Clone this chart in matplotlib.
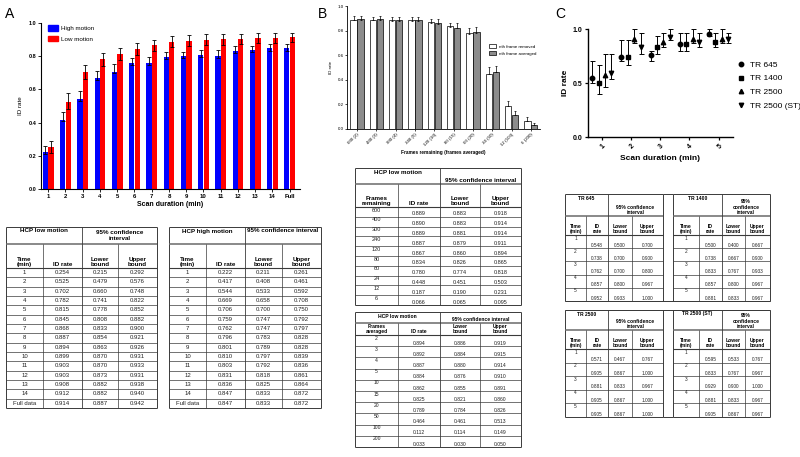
import numpy as np
import matplotlib
matplotlib.use('Agg')
import matplotlib.pyplot as plt
from matplotlib.lines import Line2D
from matplotlib.patches import Patch

plt.rcParams['font.family'] = ['Liberation Sans', 'DejaVu Sans']

# ---- Panel A: scan duration, low vs high motion ----
scan_labels = [str(i) for i in range(1, 15)] + ['Full']
table_time = [str(i) for i in range(1, 15)] + ['Full data']
low_rate = [0.254, 0.525, 0.702, 0.782, 0.815, 0.845, 0.868, 0.887, 0.894, 0.899, 0.903, 0.903, 0.908, 0.912, 0.914]
low_lower = [0.215, 0.479, 0.660, 0.741, 0.778, 0.808, 0.833, 0.854, 0.863, 0.870, 0.870, 0.873, 0.882, 0.882, 0.887]
low_upper = [0.292, 0.576, 0.748, 0.822, 0.852, 0.882, 0.900, 0.921, 0.926, 0.931, 0.933, 0.931, 0.938, 0.940, 0.942]
high_rate = [0.222, 0.417, 0.544, 0.669, 0.706, 0.759, 0.762, 0.796, 0.801, 0.810, 0.803, 0.831, 0.836, 0.847, 0.847]
high_lower = [0.211, 0.408, 0.533, 0.658, 0.700, 0.747, 0.747, 0.783, 0.789, 0.797, 0.792, 0.818, 0.825, 0.833, 0.833]
high_upper = [0.261, 0.461, 0.592, 0.708, 0.750, 0.792, 0.797, 0.828, 0.828, 0.839, 0.836, 0.861, 0.864, 0.872, 0.872]

# ---- Panel B: frames removed vs averaged ----
frames_remaining = ['600', '400', '300', '240', '120', '80', '60', '24', '12', '6']
frames_averaged = ['2', '3', '4', '5', '10', '15', '20', '50', '100', '200']
removed_rate = [0.889, 0.890, 0.889, 0.887, 0.867, 0.834, 0.780, 0.448, 0.187, 0.066]
removed_lower = [0.883, 0.883, 0.881, 0.879, 0.860, 0.826, 0.774, 0.451, 0.190, 0.065]
removed_upper = [0.918, 0.914, 0.914, 0.911, 0.894, 0.865, 0.818, 0.503, 0.231, 0.095]
averaged_rate = [0.894, 0.892, 0.887, 0.884, 0.862, 0.825, 0.789, 0.464, 0.112, 0.033]
averaged_lower = [0.886, 0.884, 0.880, 0.876, 0.855, 0.821, 0.784, 0.461, 0.114, 0.030]
averaged_upper = [0.919, 0.915, 0.914, 0.910, 0.891, 0.860, 0.826, 0.513, 0.149, 0.050]

# ---- Panel C: repetition time ----
durations = [1, 2, 3, 4, 5]
tr_names = ['TR 645', 'TR 1400', 'TR 2500', 'TR 2500 (ST)']
tr645_rate = [0.548, 0.738, 0.762, 0.857, 0.952]
tr645_lower = [0.500, 0.700, 0.700, 0.800, 0.933]
tr645_upper = [0.700, 0.900, 0.800, 0.967, 1.000]
tr1400_rate = [0.500, 0.738, 0.833, 0.857, 0.881]
tr1400_lower = [0.400, 0.667, 0.767, 0.800, 0.833]
tr1400_upper = [0.667, 0.900, 0.933, 0.967, 0.967]
tr2500_rate = [0.571, 0.905, 0.881, 0.905, 0.905]
tr2500_lower = [0.467, 0.867, 0.833, 0.867, 0.867]
tr2500_upper = [0.767, 1.000, 0.967, 1.000, 1.000]
tr2500st_rate = [0.595, 0.833, 0.929, 0.881, 0.905]
tr2500st_lower = [0.533, 0.767, 0.900, 0.833, 0.867]
tr2500st_upper = [0.767, 0.967, 1.000, 0.967, 0.967]

W, H = 800, 457
fig = plt.figure(figsize=(8, 4.57), dpi=100)
bg = fig.add_axes([0, 0, 1, 1])
bg.set_xlim(0, W)
bg.set_ylim(H, 0)
bg.axis('off')


def px_axes(x0, y0, x1, y1):
    return fig.add_axes([x0 / W, 1 - y1 / H, (x1 - x0) / W, (y1 - y0) / H])


def err(rate, lower, upper):
    r = np.array(rate)
    return [np.clip(r - np.array(lower), 0, None), np.clip(np.array(upper) - r, 0, None)]


def style_axes(ax, lw):
    for s in ['top', 'right']:
        ax.spines[s].set_visible(False)
    for s in ['left', 'bottom']:
        ax.spines[s].set_linewidth(lw)


# Panel A chart
axA = px_axes(41, 23, 300, 189)
xa = np.arange(len(scan_labels))
ekw = dict(ecolor='black', elinewidth=0.6, capsize=1.2, capthick=0.6)
axA.bar(xa - 0.16, high_rate, 0.3, color='#0000ff', yerr=err(high_rate, high_lower, high_upper), error_kw=ekw)
axA.bar(xa + 0.16, low_rate, 0.3, color='#ff0000', yerr=err(low_rate, low_lower, low_upper), error_kw=ekw)
axA.set_xlim(-0.42, 14.6)
axA.set_ylim(0, 1)
axA.set_yticks(np.arange(0, 1.01, 0.2))
axA.set_yticklabels(['%.1f' % v for v in np.arange(0, 1.01, 0.2)], fontsize=4, fontweight='bold')
axA.set_xticks(xa)
axA.set_xticklabels(scan_labels, fontsize=4.3, fontweight='bold')
axA.tick_params(width=0.6, length=2, pad=1.5)
style_axes(axA, 0.8)
axA.set_ylabel('ID rate', fontsize=4.5, labelpad=4)
axA.set_xlabel('Scan duration (min)', fontsize=5, fontweight='bold', labelpad=1.5)
axA.legend([Patch(color='#0000ff'), Patch(color='#ff0000')], ['High motion', 'Low motion'],
           loc='upper left', bbox_to_anchor=(45 / W, 1 - 22 / H), bbox_transform=fig.transFigure,
           frameon=False, fontsize=4.5, handlelength=1.5, handleheight=1.0, borderpad=0,
           labelspacing=0.75, handletextpad=0.5)

# Panel B chart
axB = px_axes(347, 6, 540, 129)
xb = np.arange(len(frames_remaining))
ekw_b = dict(ecolor='black', elinewidth=0.5, capsize=1.0, capthick=0.5)
axB.bar(xb - 0.18, removed_rate, 0.32, color='white', edgecolor='black', linewidth=0.5,
        yerr=err(removed_rate, removed_lower, removed_upper), error_kw=ekw_b)
axB.bar(xb + 0.18, averaged_rate, 0.32, color='#8c8c8c', edgecolor='black', linewidth=0.5,
        yerr=err(averaged_rate, averaged_lower, averaged_upper), error_kw=ekw_b)
axB.set_xlim(-0.52, 9.47)
axB.set_ylim(0, 1)
axB.set_yticks(np.arange(0, 1.01, 0.2))
axB.set_yticklabels(['%.1f' % v for v in np.arange(0, 1.01, 0.2)], fontsize=3.2)
axB.set_xticks(xb)
axB.set_xticklabels(['%s (%s)' % (r, a) for r, a in zip(frames_remaining, frames_averaged)],
                    fontsize=3.2, rotation=45, ha='right', rotation_mode='anchor')
axB.tick_params(width=0.5, length=1.5, pad=1)
style_axes(axB, 0.6)
axB.set_ylabel('ID rate', fontsize=3.2, labelpad=3)
axB.set_xlabel('Frames remaining (frames averaged)', fontsize=3.4, fontweight='bold', labelpad=2)
axB.legend([Patch(facecolor='white', edgecolor='black', linewidth=0.5),
            Patch(facecolor='#8c8c8c', edgecolor='black', linewidth=0.5)],
           ['nth frame removed', 'nth frame averaged'],
           loc='upper left', bbox_to_anchor=(487 / W, 1 - 42 / H), bbox_transform=fig.transFigure,
           frameon=False, fontsize=3.2, handlelength=1.6, handleheight=1.0, borderpad=0,
           labelspacing=0.6, handletextpad=0.6)

# Panel C chart
axC = px_axes(588, 29, 733, 137)
offsets = [-0.33, -0.11, 0.11, 0.33]
markers = ['o', 's', '^', 'v']
series_c = [(tr645_rate, tr645_lower, tr645_upper), (tr1400_rate, tr1400_lower, tr1400_upper),
            (tr2500_rate, tr2500_lower, tr2500_upper), (tr2500st_rate, tr2500st_lower, tr2500st_upper)]
for (rate, lo, hi), off, mk in zip(series_c, offsets, markers):
    axC.errorbar(np.array(durations) + off, rate, yerr=err(rate, lo, hi), fmt=mk, color='black',
                 ms=3.2, elinewidth=0.7, capsize=1.8, capthick=0.7)
axC.set_xlim(0.53, 5.49)
axC.set_ylim(0, 1)
axC.set_yticks([0, 0.5, 1.0])
axC.set_yticklabels(['0.0', '0.5', '1.0'], fontsize=5, fontweight='bold')
axC.set_xticks(durations)
axC.set_xticklabels([str(d) for d in durations], fontsize=5, fontweight='bold', rotation=45,
                    ha='right', rotation_mode='anchor')
axC.tick_params(width=0.9, length=2.5, pad=1.5)
style_axes(axC, 1.0)
axC.set_ylabel('ID rate', fontsize=6, fontweight='bold', labelpad=3)
axC.set_xlabel('Scan duration (min)', fontsize=6, fontweight='bold', labelpad=3)
axC.legend([Line2D([], [], ls='none', marker=m, color='black', ms=3.2) for m in markers], tr_names,
           loc='upper left', bbox_to_anchor=(733 / W, 1 - 57 / H), bbox_transform=fig.transFigure,
           frameon=False, fontsize=6, handlelength=0.8, borderpad=0, labelspacing=0.68,
           handletextpad=0.8)

# panel letters
bg.text(5, 14, 'A', fontsize=10, va='center')
bg.text(318, 14, 'B', fontsize=10, va='center')
bg.text(555, 14, 'C', fontsize=10, va='center')

LC = '#3a3a3a'


def hline(x0, x1, y, lw=0.5, c=LC):
    bg.plot([x0, x1], [y, y], color=c, lw=lw, solid_capstyle='butt')


def vline(x, y0, y1, lw=0.5, c=LC):
    bg.plot([x, x], [y0, y1], color=c, lw=lw, solid_capstyle='butt')


def ci_table(xs, top, h1, h2, rh, title, ci_title, heads, col0, rates, lowers, uppers,
             fs_head, fs_body, ci_va='center', body_mode='center'):
    x0, x1, x2, x3, x4 = xs
    y1 = top + h1
    y2 = y1 + h2
    n = len(col0)
    bottom = y2 + n * rh
    hline(x0, x4, top, 0.7)
    hline(x0, x4, bottom, 0.7)
    vline(x0, top, bottom, 0.7)
    vline(x4, top, bottom, 0.7)
    hline(x0, x4, y1, 1.1, '#6a6a6a')
    hline(x0, x4, y2, 0.8)
    for i in range(1, n):
        hline(x0, x4, y2 + i * rh, 0.5)
    vline(x2, top, bottom, 0.6)
    vline(x1, y1, bottom, 0.5)
    vline(x3, y1, bottom, 0.5)
    bg.text((x0 + x2) / 2, top + 1.5, title, fontsize=fs_head, fontweight='bold', ha='center', va='top')
    if ci_va == 'center':
        bg.text((x2 + x4) / 2, (top + y1) / 2, ci_title, fontsize=fs_head, fontweight='bold',
                ha='center', va='center', linespacing=1.1)
    elif ci_va == 'top':
        bg.text((x2 + x4) / 2, top + 1.5, ci_title, fontsize=fs_head, fontweight='bold',
                ha='center', va='top', linespacing=1.1)
    else:
        bg.text((x2 + x4) / 2, y1 - 0.8, ci_title, fontsize=fs_head, fontweight='bold',
                ha='center', va='bottom', linespacing=1.1)
    cols = [x0, x1, x2, x3, x4]
    for j, hd in enumerate(heads):
        bg.text((cols[j] + cols[j + 1]) / 2, y2 - 0.8, hd, fontsize=fs_head, fontweight='bold',
                ha='center', va='bottom', linespacing=1.1)
    for i in range(n):
        ytop = y2 + i * rh
        vals = [col0[i], '%.3f' % rates[i], '%.3f' % lowers[i], '%.3f' % uppers[i]]
        for j, v in enumerate(vals):
            cx = (cols[j] + cols[j + 1]) / 2
            if body_mode == 'center':
                bg.text(cx, ytop + rh / 2, v, fontsize=fs_body, ha='center', va='center', color='#222222')
            elif j == 0:
                bg.text(cx, ytop + 0.6, v, fontsize=fs_body, ha='center', va='top', color='#222222')
            else:
                bg.text(cx, ytop + rh - 0.4, v, fontsize=fs_body, ha='center', va='bottom', color='#222222')


heads_a = ['Time\n(min)', 'ID rate', 'Lower\nbound', 'Upper\nbound']
ci_table([6, 43, 82, 118, 157], 227, 17, 24, 9.33, 'HCP low motion', '95% confidence\ninterval',
         heads_a, table_time, low_rate, low_lower, low_upper, 4.5, 4.3)
ci_table([169, 206, 245, 282, 321], 227, 17, 24, 9.33, 'HCP high motion', '95% confidence interval',
         heads_a, table_time, high_rate, high_lower, high_upper, 4.5, 4.3, ci_va='top')

ci_table([355, 398, 440, 480, 521], 168, 16, 23, 9.8, 'HCP low motion', '95% confidence interval',
         ['Frames\nremaining', 'ID rate', 'Lower\nbound', 'Upper\nbound'], frames_remaining,
         removed_rate, removed_lower, removed_upper, 4.5, 4.0, ci_va='bottom', body_mode='split')
ci_table([355, 398, 440, 480, 521], 312, 11, 12, 11.2, 'HCP low motion', '95% confidence interval',
         ['Frames\naveraged', 'ID rate', 'Lower\nbound', 'Upper\nbound'], frames_averaged,
         averaged_rate, averaged_lower, averaged_upper, 3.6, 3.6, ci_va='bottom', body_mode='split')

dur_labels = [str(d) for d in durations]
heads_c = ['Time\n(min)', 'ID\nrate', 'Lower\nbound', 'Upper\nbound']
left_c = [565, 586, 608, 632, 663]
right_c = [673, 699, 722, 745, 770]
ci_table(left_c, 194, 22, 19, 13.2, 'TR 645', '95% confidence\ninterval', heads_c, dur_labels,
         tr645_rate, tr645_lower, tr645_upper, 3.6, 3.4, ci_va='bottom', body_mode='split')
ci_table(right_c, 194, 22, 19, 13.2, 'TR 1400', '95%\nconfidence\ninterval', heads_c, dur_labels,
         tr1400_rate, tr1400_lower, tr1400_upper, 3.6, 3.4, ci_va='bottom', body_mode='split')
ci_table(left_c, 310, 20, 19, 13.6, 'TR 2500', '95% confidence\ninterval', heads_c, dur_labels,
         tr2500_rate, tr2500_lower, tr2500_upper, 3.6, 3.4, ci_va='bottom', body_mode='split')
ci_table(right_c, 310, 20, 19, 13.6, 'TR 2500 (ST)', '95%\nconfidence\ninterval', heads_c, dur_labels,
         tr2500st_rate, tr2500st_lower, tr2500st_upper, 3.6, 3.4, ci_va='bottom', body_mode='split')
# spacer row/column joining the four C tables
for y in [194, 301, 310, 417]:
    hline(663, 673, y, 0.7)
hline(565, 770, 301, 0.7)
hline(565, 770, 310, 0.7)

fig.savefig('out.png', dpi=100)
